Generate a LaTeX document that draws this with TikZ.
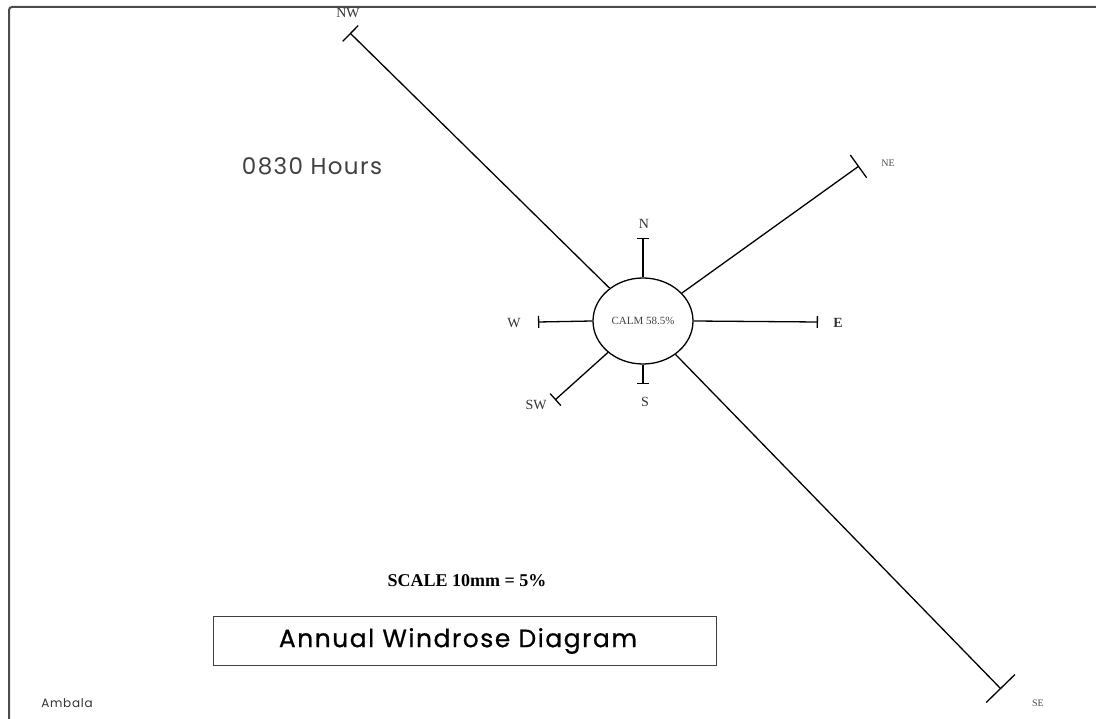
\documentclass[tikz,border=0pt]{standalone}
\usepackage{fontspec}
\setmainfont{Liberation Serif}
\newfontfamily\gothic[LetterSpace=6]{Poppins}
\newfontfamily\gothicdark[LetterSpace=6, FakeBold=0.6]{Poppins}
\usetikzlibrary{arrows.meta,shapes.geometric}
\tikzset{
    frame/.style = {
        draw = black!70,
        line width = 2pt,
        rounded corners = 3pt,
        },
    spoke/.style = {
        draw,
        line width = 1.3pt,
        -{Bar[width=12pt]},
        },
    calm/.style = {
        draw,
        ellipse,
        line width = 1.3pt,
        minimum width = 100pt,
        minimum height = 86pt,
        inner sep = 0pt,
        font = \fontsize{11}{11}\selectfont,
        text = black!75,
        },
    dir/.style = {
        font = \fontsize{14}{14}\selectfont,
        text = black!80,
        },
    dir small/.style = {
        font = \fontsize{10}{10}\selectfont,
        text = black!70,
        },
    caption/.style = {
        draw = black!75,
        line width = 1.2pt,
        minimum width = 503pt,
        minimum height = 49pt,
        font = \gothicdark\fontsize{25}{25}\selectfont,
        },
}
\begin{document}
\begin{tikzpicture}[x=1pt, y=-1pt]
            \useasboundingbox (0,0) rectangle (1096,719);
            \draw[frame] (9,719) |- (1096,7);

            \node[calm] (C) at (643,321) {CALM 58.5\%};

            \coordinate (Nend) at (643,238);
            \coordinate (Send) at (643,384);
            \coordinate (Wend) at (538,322);
            \coordinate (Eend) at (818,322);
            \coordinate (NWend) at (350,33);
            \coordinate (NEend) at (859,166);
            \coordinate (SEend) at (1001,689);
            \coordinate (SWend) at (555,400);

            \path[spoke] (C.north) -- (Nend);
            \path[spoke] (C.south) -- (Send);
            \path[spoke] (C.west) -- (Wend);
            \path[spoke] (C.east) -- (Eend);
            \path[spoke, -{Bar[width=22pt]}] (C) -- (NWend);
            \path[spoke, -{Bar[width=28pt]}] (C) -- (NEend);
            \path[spoke, -{Bar[width=40pt]}] (C) -- (SEend);
            \path[spoke, -{Bar[width=16pt]}] (C) -- (SWend);

            \node[dir] (N) at (644,224) {N};
            \node[dir] (S) at (645,402) {S};
            \node[dir] (W) at (514,323) {W};
            \node[dir, font=\bfseries\fontsize{14}{14}\selectfont] (E) at (838,323) {E};
            \node[dir] (SW) at (536,405) {SW};
            \node[dir] (NW) at (348,13) {NW};
            \node[dir small] (NE) at (888,163) {NE};
            \node[dir small] (SE) at (1038,703) {SE};

            \node[font=\gothic\fontsize{23}{23}\selectfont, text=black!75] (hours) at (312,166) {0830 Hours};
            \node[font=\bfseries\fontsize{18}{18}\selectfont] (scale) at (467,581) {SCALE 10mm = 5\%};
            \node[caption] (title) at (465,641) {\hspace*{-14pt}Annual Windrose Diagram};
            \node[font=\gothic\fontsize{12}{12}\selectfont, text=black!80] (place) at (67,703) {Ambala};
        \end{tikzpicture}
\end{document}
